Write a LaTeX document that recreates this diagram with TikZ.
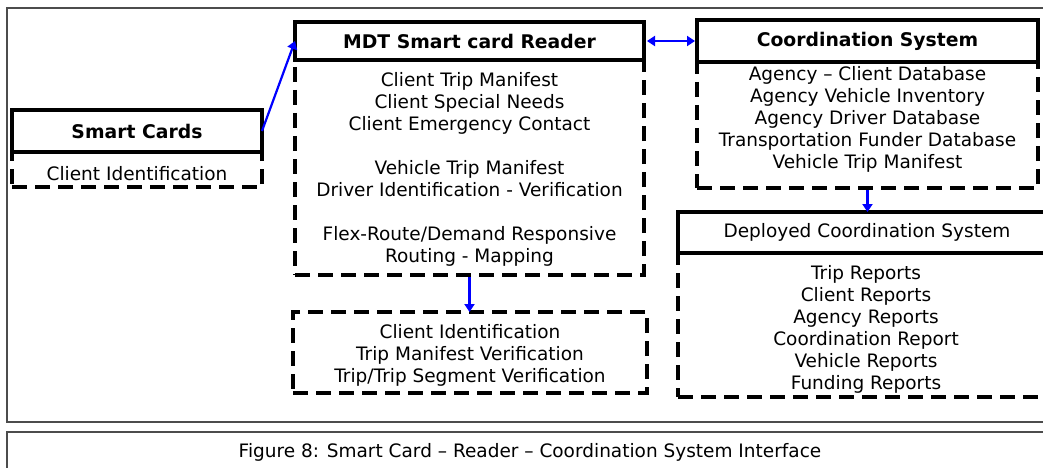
\documentclass[tikz,border=0pt]{standalone}
\usepackage{fontspec}
\setmainfont{DejaVu Sans}
\usetikzlibrary{arrows.meta}
\tikzset{
  every node/.style={inner sep=0pt, outer sep=0pt},
  hdrbox/.style={draw, line width=4pt, font=\bfseries\fontsize{18.8}{22}\selectfont},
  plainhdr/.style={draw, line width=4pt, font=\fontsize{18.5}{22}\selectfont},
  bodybox/.style={draw, line width=4pt, dash pattern=on 15pt off 8pt, anchor=north west},
  bodytext/.style={align=center, anchor=north, font=\fontsize{18.5}{22}\selectfont},
  flow/.style={draw=blue, line width=2.2pt, -{Triangle[length=8pt,width=10pt]}},
  flowboth/.style={draw=blue, line width=2.2pt, {Triangle[length=8pt,width=10pt]}-{Triangle[length=8pt,width=10pt]}},
  frame/.style={draw=black!70, line width=1.5pt, anchor=north west},
}
\newcommand\topstrut{\rule{0pt}{14pt}}

\begin{document}
\begin{tikzpicture}[x=1pt,y=-1pt]
\useasboundingbox (0,0) rectangle (1043,468);
\clip (0,0) rectangle (1043,468);
\fill[white] (0,0) rectangle (1043,468);

% outer frames
\node[frame, minimum width=1043pt, minimum height=414pt] (outer) at (7,8) {};
\node[frame, minimum width=1043pt, minimum height=60pt] (capframe) at (7,432) {};
\node[font=\fontsize{18.5}{20}\selectfont, anchor=base] (caption) at (530,457)
  {Figure 8: Smart Card – Reader – Coordination System Interface};

% Smart Cards
\node[bodybox, minimum width=250pt, minimum height=35pt] (scbody) at (12,152) {};
\node[hdrbox, minimum width=250pt, minimum height=42pt] (sch) at (137,131) {Smart Cards};
\node[bodytext] (sctext) at (137,166) {\topstrut Client Identification};

% MDT Smart card Reader
\node[bodybox, minimum width=349pt, minimum height=215pt] (mdtbody) at (295,60) {};
\node[hdrbox, minimum width=349pt, minimum height=38pt] (mdth) at (469.5,41) {MDT Smart card Reader};
\node[bodytext] (mdttext) at (469.5,72) {\topstrut Client Trip Manifest\\Client Special Needs\\Client Emergency Contact\\[22pt]
  Vehicle Trip Manifest\\Driver Identification - Verification\\[22pt]
  Flex-Route/Demand Responsive\\Routing - Mapping};

% Coordination System
\node[bodybox, minimum width=341pt, minimum height=126pt] (coordbody) at (697,62) {};
\node[hdrbox, minimum width=341pt, minimum height=42pt] (coordh) at (867.5,41) {Coordination System};
\node[bodytext] (coordtext) at (867.5,66) {\topstrut Agency – Client Database\\Agency Vehicle Inventory\\Agency Driver Database\\
  Transportation Funder Database\\Vehicle Trip Manifest};

% Deployed Coordination System
\node[bodybox, minimum width=378pt, minimum height=144pt] (depbody) at (678,253) {};
\node[plainhdr, minimum width=378pt, minimum height=41pt] (deph) at (867,232.5) {Deployed Coordination System};
\node[bodytext] (deptext) at (866,265) {\topstrut Trip Reports\\Client Reports\\Agency Reports\\Coordination Report\\
  Vehicle Reports\\Funding Reports};

% verification box
\node[bodybox, minimum width=354pt, minimum height=81pt] (verbody) at (293,312) {};
\node[bodytext] (vertext) at (470,324) {\topstrut Client Identification\\Trip Manifest Verification\\Trip/Trip Segment Verification};

% connectors
\draw[flow] (sch.east) -- (mdth.west);
\draw[flowboth] ([xshift=3pt]mdth.east) -- ([xshift=-2pt]coordh.west);
\draw[flow] ([yshift=-2pt]coordbody.south) -- (coordbody.south |- deph.north);
\draw[flow] ([yshift=-2pt]mdtbody.south) -- (mdtbody.south |- verbody.north);
\end{tikzpicture}
\end{document}
